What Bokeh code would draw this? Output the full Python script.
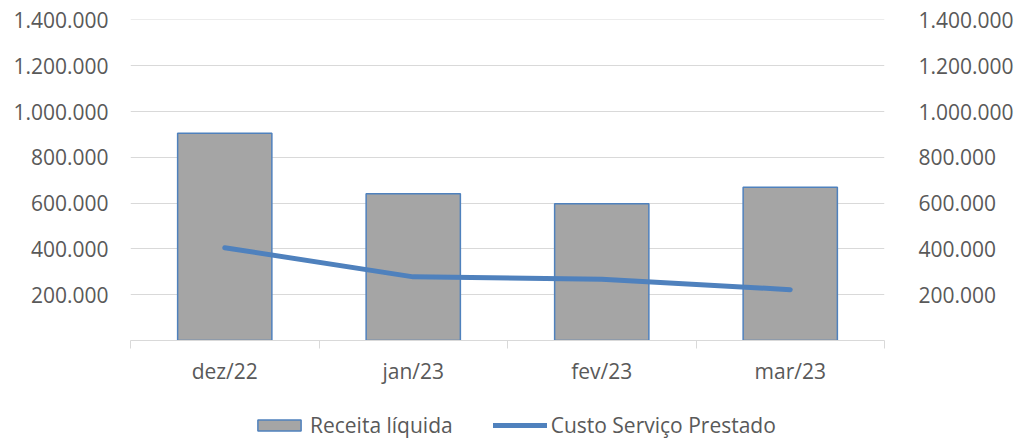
from bokeh.plotting import figure
from bokeh.layouts import column
from bokeh.models import (Range1d, LinearAxis, FixedTicker, Grid, Legend, LegendItem,
                          ColumnDataSource)
from bokeh.embed import file_html
from bokeh.resources import INLINE

# ---- data ----
categories = ["dez/22", "jan/23", "fev/23", "mar/23"]
receita_liquida = [905000, 641000, 597000, 669000]
custo_servico = [405000, 278000, 268000, 222000]
y_ticks = [200000, 400000, 600000, 800000, 1000000, 1200000, 1400000]
y_tick_labels = ["200.000", "400.000", "600.000", "800.000", "1.000.000", "1.200.000", "1.400.000"]

FONT = "Open Sans"
FS = "21px"
TXT = "#595959"
GRID = "#d9d9d9"
BLUE = "#4f81bd"
GRAY = "#a5a5a5"

n = len(categories)
centers = [i + 0.5 for i in range(n)]          # category slot centres
boundaries = list(range(n + 1))                # category slot edges

src = ColumnDataSource(dict(x=centers, cat=categories, receita=receita_liquida, custo=custo_servico))

p = figure(width=1016, height=405, x_range=Range1d(0, n),
           y_range=Range1d(0, 1402000), x_axis_location=None, y_axis_location=None,
           output_backend="svg", toolbar_location=None,
           min_border_left=130, min_border_right=128, min_border_top=19, min_border_bottom=65)
p.outline_line_color = None
p.xgrid.visible = False
p.ygrid.visible = False
p.extra_y_ranges = {"r": Range1d(0, 1402000)}

p.add_layout(Grid(dimension=1, ticker=FixedTicker(ticks=y_ticks),
                  grid_line_color=GRID, grid_line_width=1))

overrides = dict(zip(y_ticks, y_tick_labels))
for side, rname, standoff in (("left", "default", 16), ("right", "r", 28)):
    ax = LinearAxis(y_range_name=rname, ticker=FixedTicker(ticks=y_ticks),
                    major_label_overrides=overrides, axis_line_color=None,
                    major_tick_line_color=None, minor_tick_line_color=None,
                    major_label_standoff=standoff, major_label_text_font=FONT,
                    major_label_text_font_size=FS, major_label_text_color=TXT)
    p.add_layout(ax, side)

bar_style = dict(width=0.5, fill_color=GRAY, line_color=BLUE, line_width=1.5)
line_style = dict(line_color=BLUE, line_width=5, line_cap="round", line_join="round")

p.vbar(x="x", top="receita", source=src, **bar_style)
p.line(x="x", y="custo", source=src, **line_style)

# axis line + tick marks at category boundaries
ax1 = LinearAxis(ticker=FixedTicker(ticks=boundaries),
                 major_label_overrides={b: "" for b in boundaries},
                 axis_line_color=GRID, axis_line_width=1, major_tick_line_color=GRID,
                 major_tick_in=0, major_tick_out=8, minor_tick_line_color=None,
                 major_label_text_font_size="1px", major_label_standoff=0)
p.add_layout(ax1, "below")
# category labels
ax2 = LinearAxis(ticker=FixedTicker(ticks=centers),
                 major_label_overrides=dict(zip(centers, categories)),
                 axis_line_color=None, major_tick_line_color=None, minor_tick_line_color=None,
                 major_label_standoff=2, major_label_text_font=FONT,
                 major_label_text_font_size=FS, major_label_text_color=TXT)
p.add_layout(ax2, "below")

# legend strip: same series as hidden renderers, only the legend shows
lg = figure(width=1016, height=34, x_range=Range1d(100, 101), y_range=Range1d(100, 101),
            x_axis_location=None, y_axis_location=None, output_backend="svg",
            toolbar_location=None, min_border=0)
lg.outline_line_color = None
lg.xgrid.visible = False
lg.ygrid.visible = False
lb = lg.vbar(x="x", top="receita", source=src, visible=False, **bar_style)
ll = lg.line(x="x", y="custo", source=src, visible=False, **line_style)
legend = Legend(items=[LegendItem(label="Receita líquida", renderers=[lb]),
                       LegendItem(label="Custo Serviço Prestado", renderers=[ll])],
                orientation="horizontal", location=(122, 0), glyph_width=54, glyph_height=14,
                label_standoff=4, spacing=40, padding=0, margin=0, border_line_color=None,
                background_fill_alpha=0, inactive_fill_alpha=0,
                label_text_font=FONT, label_text_font_size=FS, label_text_color=TXT)
lg.add_layout(legend, "center")

open("out.html", "w").write(file_html(column(p, lg, spacing=0), INLINE))
